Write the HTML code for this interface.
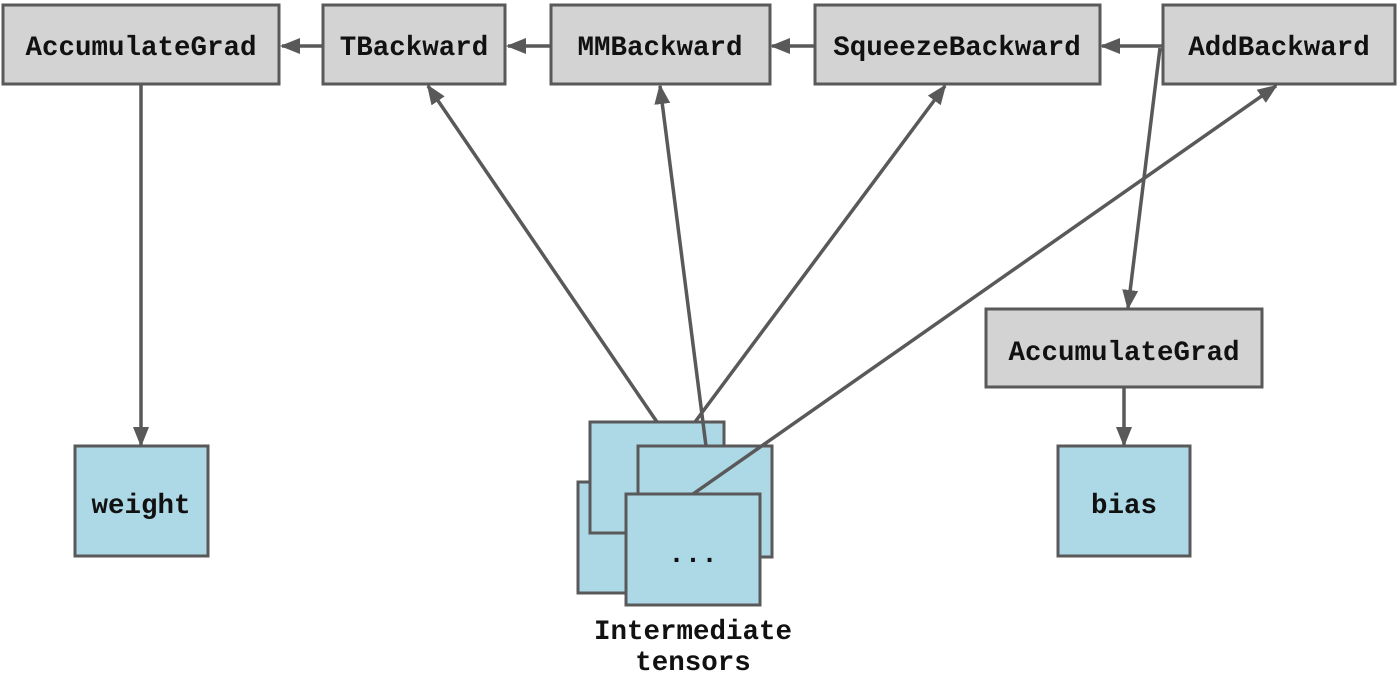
<!DOCTYPE html>
<html><head><style>html,body{margin:0;padding:0;background:#fff}</style></head><body>
<svg width="1400" height="678" viewBox="0 0 1400 678" xmlns="http://www.w3.org/2000/svg">
<defs>
<marker id="b" viewBox="0 0 20 20" refX="18" refY="10" markerWidth="20" markerHeight="20" orient="auto" markerUnits="userSpaceOnUse"><path d="M0,2 L20,10 L0,18z" fill="#595959"/></marker></defs>
<g stroke="#595959" stroke-width="3" fill="#d3d3d3">
<rect x="3" y="5" width="276" height="79"/>
<rect x="323" y="5" width="182" height="79"/>
<rect x="551" y="5" width="219" height="79"/>
<rect x="815" y="5" width="285" height="79"/>
<rect x="1163" y="5" width="232" height="79"/>
<rect x="986" y="309" width="276" height="78"/>
<g fill="#add8e6">
<rect x="75" y="446" width="133" height="110"/>
<rect x="1058" y="446" width="132" height="110"/>
<rect x="578" y="482" width="134" height="111"/>
<rect x="590" y="422" width="134" height="111"/>
<rect x="638" y="446" width="134" height="111"/>
<rect x="626" y="494" width="134" height="111"/>
</g>
</g>
<g stroke="#595959" stroke-width="3.5" fill="none" marker-end="url(#b)">
<line x1="323" y1="46" x2="282" y2="46"/>
<line x1="551" y1="46" x2="508" y2="46"/>
<line x1="815" y1="46" x2="772" y2="46"/>
<line x1="1163" y1="46" x2="1102" y2="46"/>
<line x1="141" y1="84" x2="141" y2="445"/>
<line x1="1160" y1="48" x2="1128" y2="308"/>
<line x1="1124" y1="387" x2="1124" y2="445"/>
<line x1="657" y1="422" x2="428" y2="86"/>
<line x1="706" y1="446" x2="660" y2="86"/>
<line x1="695" y1="422" x2="945" y2="86"/>
<line x1="693" y1="494" x2="1276" y2="86"/>
</g>
<g font-family="Liberation Mono, monospace" font-weight="bold" font-size="27.5" fill="#111" text-anchor="middle">
<text x="141" y="55">AccumulateGrad</text>
<text x="414" y="55">TBackward</text>
<text x="660" y="55">MMBackward</text>
<text x="957" y="55">SqueezeBackward</text>
<text x="1279" y="55">AddBackward</text>
<text x="1124" y="360">AccumulateGrad</text>
<text x="141" y="513">weight</text>
<text x="1124" y="513">bias</text>
<text x="693" y="562">...</text>
<text x="693" y="639">Intermediate</text>
<text x="693" y="670">tensors</text>
</g>
</svg>
</body></html>
